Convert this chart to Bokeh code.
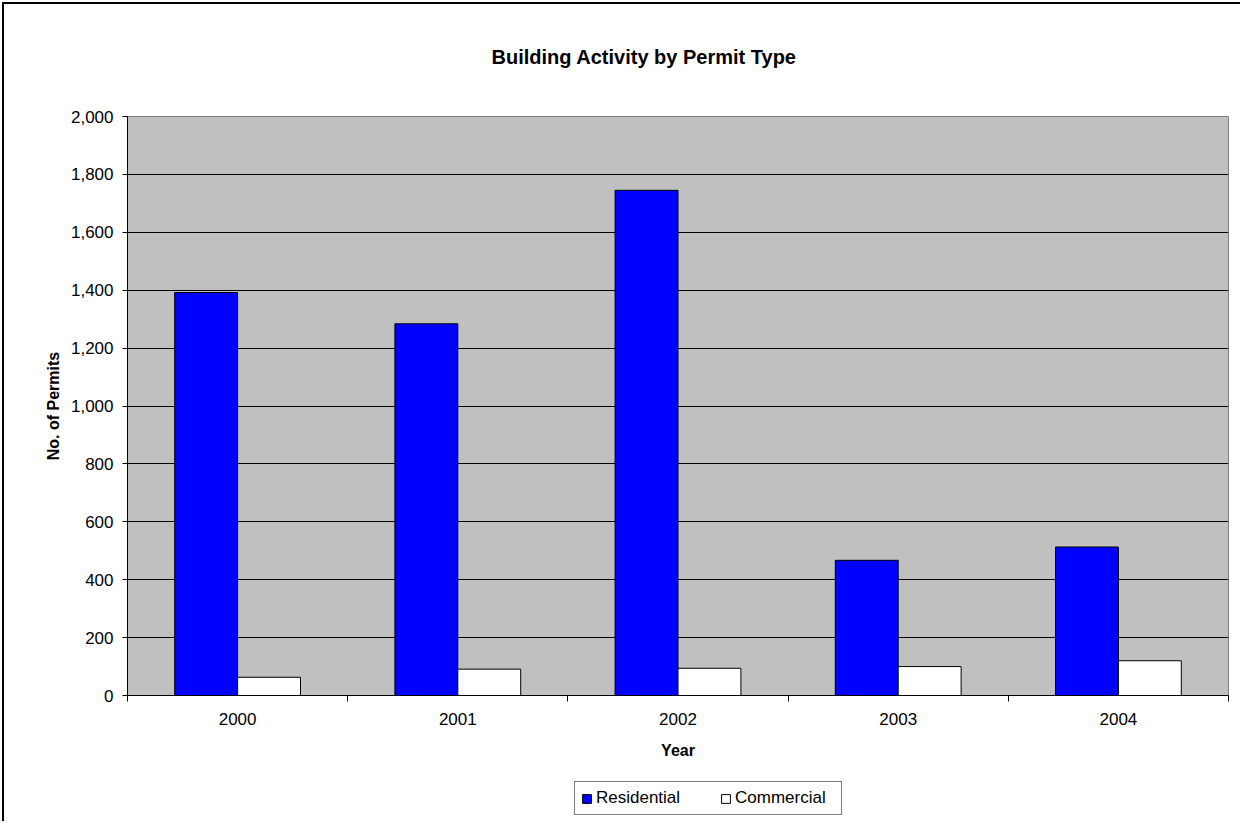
from bokeh.plotting import figure
from bokeh.layouts import column
from bokeh.models import (ColumnDataSource, FixedTicker, NumeralTickFormatter, Range1d,
                          Legend, LegendItem, Title)
from bokeh.transform import dodge
from bokeh.embed import file_html
from bokeh.resources import INLINE

years = ["2000", "2001", "2002", "2003", "2004"]
residential = [1392, 1284, 1745, 467, 513]
commercial = [63, 91, 94, 100, 120]
y_ticks = [0, 200, 400, 600, 800, 1000, 1200, 1400, 1600, 1800, 2000]
series_names = ["Residential", "Commercial"]
series_fields = ["res", "com"]
series_colors = ["#0000FF", "white"]

FONT = "Liberation Sans"

centers = [i + 0.5 for i in range(len(years))]
src = ColumnDataSource(dict(x=centers, year=years, res=residential, com=commercial))

p = figure(frame_width=1101, frame_height=579, output_backend="svg", toolbar_location=None,
           x_range=Range1d(0, len(years)), y_range=Range1d(0, 2000),
           min_border_left=123, min_border_right=12, min_border_top=112, min_border_bottom=80)

p.background_fill_color = "#C0C0C0"
p.border_fill_color = "white"
p.outline_line_color = "#808080"
p.outline_line_width = 1

bw = 0.2857
offsets = [-bw / 2, bw / 2]
for fld, col, off in zip(series_fields, series_colors, offsets):
    p.vbar(x=dodge("x", off, range=p.x_range), top=fld, width=bw, source=src,
           fill_color=col, line_color="black", line_width=1)

p.title.text = "Building Activity by Permit Type"
p.title.align = "left"
p.title.offset = 364
p.title.text_font = FONT
p.title.text_font_size = "20px"
p.title.text_font_style = "bold"
p.title.text_color = "black"

# spacer between title and plot area
p.add_layout(Title(text=" ", text_font_size="29px"), "above")

# x axis
xa = p.xaxis[0]
xa.ticker = FixedTicker(ticks=centers, minor_ticks=list(range(len(years) + 1)))
xa.major_label_overrides = {c: y for c, y in zip(centers, years)}
xa.major_tick_out = 0
xa.major_tick_in = 0
xa.minor_tick_out = 6
xa.minor_tick_in = 0
xa.minor_tick_line_color = "black"
xa.axis_line_color = "black"
xa.major_label_text_font = FONT
xa.major_label_text_font_size = "17px"
xa.major_label_text_color = "black"
xa.major_label_standoff = 11
xa.axis_label = "Year"
xa.axis_label_text_font = FONT
xa.axis_label_text_font_size = "16px"
xa.axis_label_text_font_style = "bold"
xa.axis_label_text_color = "black"
xa.axis_label_standoff = 14

# y axis
ya = p.yaxis[0]
ya.ticker = FixedTicker(ticks=y_ticks)
ya.formatter = NumeralTickFormatter(format="0,0")
ya.major_tick_out = 5
ya.major_tick_in = 0
ya.minor_tick_out = 0
ya.minor_tick_in = 0
ya.axis_line_color = "black"
ya.major_tick_line_color = "black"
ya.major_label_text_font = FONT
ya.major_label_text_font_size = "17px"
ya.major_label_text_color = "black"
ya.major_label_standoff = 9
ya.axis_label = "No. of Permits"
ya.axis_label_text_font = FONT
ya.axis_label_text_font_size = "16px"
ya.axis_label_text_font_style = "bold"
ya.axis_label_text_color = "black"
ya.axis_label_standoff = 6

p.xgrid.grid_line_color = None
p.ygrid.grid_line_color = "black"
p.ygrid.grid_line_width = 1

# legend strip below the chart (its renderers are hidden; only legend glyphs show)
q = figure(width=1236, height=46, output_backend="svg", toolbar_location=None,
           x_range=Range1d(0, len(years)), y_range=Range1d(0, 2000),
           x_axis_type=None, y_axis_type=None,
           min_border_left=0, min_border_right=0, min_border_top=0, min_border_bottom=0)
q.outline_line_color = None
q.background_fill_color = "white"
q.border_fill_color = "white"
q.xgrid.grid_line_color = None
q.ygrid.grid_line_color = None
leg_r = []
for fld, col in zip(series_fields, series_colors):
    r = q.vbar(x="x", top=fld, width=bw, source=src, fill_color=col,
               line_color="black", line_width=1)
    r.visible = False
    leg_r.append(r)

legend = Legend(items=[LegendItem(label=n, renderers=[r]) for n, r in zip(series_names, leg_r)],
                orientation="horizontal", location=(447, 6))
legend.label_text_font = FONT
legend.label_text_font_size = "17px"
legend.label_text_color = "black"
legend.glyph_width = 11
legend.glyph_height = 11
legend.label_standoff = 4
legend.label_width = 100
legend.spacing = 24
legend.padding = 6
legend.margin = 0
legend.inactive_fill_alpha = 0
legend.border_line_color = "black"
legend.border_line_width = 1
legend.background_fill_color = "white"
q.add_layout(legend)

layout = column(p, q, spacing=0)
layout.styles = {"margin-left": "2px", "margin-top": "2px",
                 "border-top": "2px solid black", "border-left": "2px solid black"}

open("out.html", "w").write(file_html(layout, INLINE))
